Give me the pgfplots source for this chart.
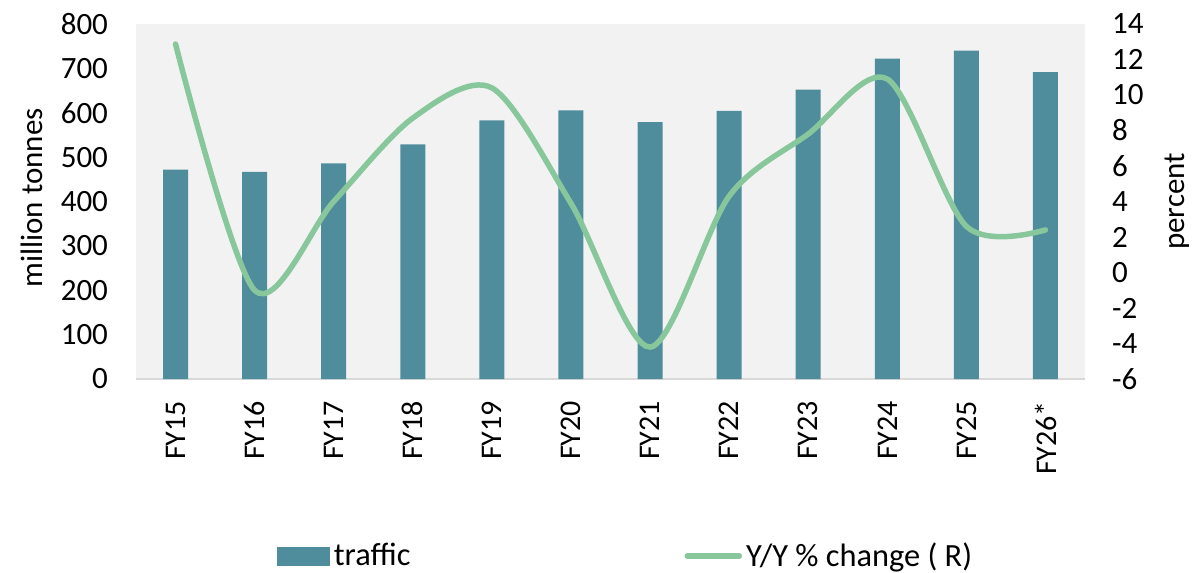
\documentclass[border=0pt]{standalone}
\usepackage{fontspec}
\setmainfont{Carlito}
\usepackage{pgfplots}
\pgfplotsset{compat=1.18}
\definecolor{barc}{HTML}{4F8D9C}
\definecolor{linec}{HTML}{87C79B}
\definecolor{bgc}{HTML}{F2F2F2}
\definecolor{axc}{HTML}{D9D9D9}
\begin{document}
\begin{tikzpicture}[font=\fontsize{15.5}{18}\selectfont]
\useasboundingbox (-68pt,-96.5pt) rectangle (528pt,189.5pt);
\pgfplotsset{
  common/.style={
    scale only axis, width=474.5pt, height=177.5pt,
    xmin=-0.5, xmax=11.5,
    /pgf/number format/assume math mode=true,
    major tick length=0pt,
    tick label style={font=\fontsize{15.5}{18}\selectfont},
    label style={font=\fontsize{15.8}{18}\selectfont},
  }
}
\begin{axis}[common,
  axis background/.style={fill=bgc},
  ymin=0, ymax=800, ytick={0,100,...,800},
  axis x line*=bottom, axis y line*=left,
  x axis line style={draw=axc, line width=1pt, -},
  y axis line style={draw=none},
  xtick={0,...,11},
  xticklabels={FY15,FY16,FY17,FY18,FY19,FY20,FY21,FY22,FY23,FY24,FY25,FY26*},
  xticklabel style={rotate=90, anchor=east, font=\fontsize{15}{18}\selectfont},
  xticklabel shift=7.5pt,
  yticklabel shift=10.5pt,
  ylabel={million tonnes},
  every axis y label/.style={at={(axis description cs:-0.1095,0.51)}, rotate=90, anchor=center},
]
\addplot[ybar, bar width=12.5pt, fill=barc, draw=none] coordinates {
(0,471.6) (1,467) (2,486) (3,529) (4,583) (5,605.6) (6,579) (7,604) (8,652) (9,722) (10,740) (11,691.5)};
\end{axis}
\begin{axis}[common,
  axis x line=none, axis y line*=right,
  y axis line style={draw=none},
  ymin=-6, ymax=14, ytick={-6,-4,...,14},
  yticklabel shift=10pt,
  ylabel={percent},
  every axis y label/.style={at={(axis description cs:1.097,0.5)}, rotate=90, anchor=center},
  legend columns=2,
  legend style={at={(0.517,-0.4986)}, anchor=center, draw=none, fill=none,
    font=\fontsize{16.2}{19}\selectfont,
    /tikz/every even column/.append style={column sep=135pt}},
]
\addlegendimage{barc, legend image code/.code={\fill[barc] (0pt,-4.5pt) rectangle (26pt,4.5pt);}}
\addlegendentry{traffic}
\addplot[linec, line width=2.75pt, line cap=round, smooth, tension=0.5,
  legend image code/.code={\draw[linec, line width=2.75pt, line cap=round] (0pt,0pt) -- (26pt,0pt);}] coordinates {
(0,12.87) (1,-1.0) (2,4.0) (3,8.7) (4,10.4) (5,3.9) (6,-4.2) (7,4.3) (8,7.8) (9,10.9) (10,2.6) (11,2.4)};
\addlegendentry{Y/Y \% change ( R)}
\end{axis}
\end{tikzpicture}
\end{document}
